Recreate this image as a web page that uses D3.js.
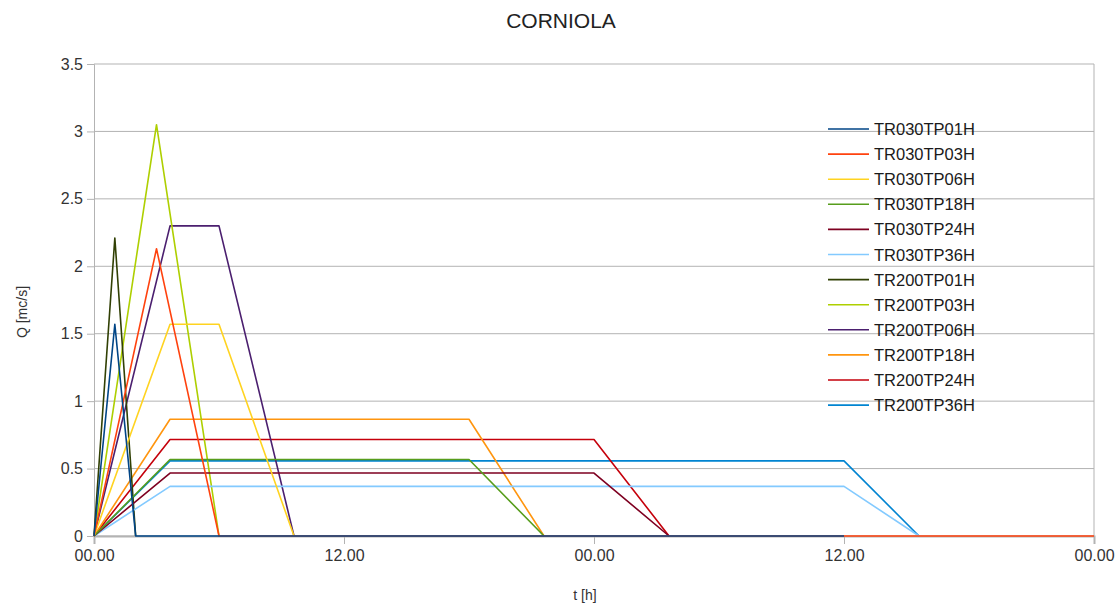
<!DOCTYPE html>
<html><head><meta charset="utf-8">
<script src="https://cdn.jsdelivr.net/npm/d3@7"></script>
<style>body{margin:0;background:#fff;} text{font-family:"Liberation Sans",Arial,sans-serif;}</style>
</head><body>
<svg id="c" width="1120" height="608"></svg>
<script>
const seriesNames = ["TR030TP01H","TR030TP03H","TR030TP06H","TR030TP18H","TR030TP24H","TR030TP36H",
                     "TR200TP01H","TR200TP03H","TR200TP06H","TR200TP18H","TR200TP24H","TR200TP36H"];
const palette = ["#004586","#ff420e","#ffd320","#579d1c","#7e0021","#83caff",
                 "#314004","#aecf00","#4b1f6f","#ff950e","#c5000b","#0084d1"];
// time [h] for each series
const seriesTimes = [
  [0,1,2,36],
  [0,3,6,48],
  [0,3.65,6,9.6],
  [0,3.65,18,21.6],
  [0,3.65,24,27.6],
  [0,3.65,36,39.6],
  [0,1,2],
  [0,3,6],
  [0,3.65,6,9.6],
  [0,3.65,18,21.6],
  [0,3.65,24,27.6],
  [0,3.65,36,39.6]
];
// discharge Q [mc/s] for each series
const seriesValues = [
  [0,1.57,0,0],
  [0,2.13,0,0],
  [0,1.57,1.57,0],
  [0,0.567,0.567,0],
  [0,0.467,0.467,0],
  [0,0.368,0.368,0],
  [0,2.21,0],
  [0,3.05,0],
  [0,2.30,2.30,0],
  [0,0.866,0.866,0],
  [0,0.716,0.716,0],
  [0,0.557,0.557,0]
];
const xTickValues = [0,12,24,36,48];
const xTickLabels = ["00.00","12.00","00.00","12.00","00.00"];
const yTickValues = [0,0.5,1,1.5,2,2.5,3,3.5];
const yTickLabels = ["0","0.5","1","1.5","2","2.5","3","3.5"];

const svg = d3.select("#c");
const L=94, R=1094, T=64, B=536;
const x = d3.scaleLinear().domain([0,48]).range([L,R]);
const y = d3.scaleLinear().domain([0,3.5]).range([B,T]);
const grid = "#b3b3b3";

// grid
svg.append("g").selectAll("line").data(yTickValues).join("line")
  .attr("x1",L).attr("x2",R).attr("y1",d=>y(d)).attr("y2",d=>y(d))
  .attr("stroke",grid).attr("stroke-width",1);
svg.append("line").attr("x1",R).attr("x2",R).attr("y1",T).attr("y2",B).attr("stroke",grid);

// y axis
const yAxis = d3.axisLeft(y).tickValues(yTickValues).tickFormat((d,i)=>yTickLabels[i]).tickSize(7).tickPadding(4);
const gy = svg.append("g").attr("transform",`translate(${L},0)`).call(yAxis);
gy.select(".domain").attr("stroke",grid);
gy.selectAll(".tick line").attr("stroke",grid);
gy.selectAll("text").attr("font-size",16).attr("fill","#333").attr("font-family","Liberation Sans, Arial, sans-serif");

// x axis
const xAxis = d3.axisBottom(x).tickValues(xTickValues).tickFormat((d,i)=>xTickLabels[i]).tickSize(8).tickPadding(6);
const gx = svg.append("g").attr("transform",`translate(0,${B})`).call(xAxis);
gx.select(".domain").attr("stroke",grid).attr("stroke-width",2);
gx.selectAll(".tick line").attr("stroke",grid);
gx.selectAll("text").attr("font-size",16).attr("fill","#333").attr("font-family","Liberation Sans, Arial, sans-serif");

// lines (reverse drawing order)
const line = d3.line().x(d=>x(d[0])).y(d=>y(d[1]));
const idx = d3.range(seriesNames.length).reverse();
svg.append("g").selectAll("path").data(idx).join("path")
  .attr("d",i=>line(seriesTimes[i].map((t,k)=>[t,seriesValues[i][k]])))
  .attr("fill","none").attr("stroke",i=>palette[i]).attr("stroke-width",1.6)
  .attr("stroke-linejoin","round");

// title and axis labels
svg.append("text").attr("x",561).attr("y",28).attr("text-anchor","middle")
  .attr("font-size",21).attr("fill","#222").text("CORNIOLA");
svg.append("text").attr("transform","translate(27,312) rotate(-90)").attr("text-anchor","middle")
  .attr("font-size",14).attr("fill","#333").text("Q [mc/s]");
svg.append("text").attr("x",585).attr("y",600).attr("text-anchor","middle")
  .attr("font-size",14).attr("fill","#333").text("t [h]");

// legend
const lg = svg.append("g");
seriesNames.forEach((n,i)=>{
  const yy = 129 + i*25.1;
  lg.append("line").attr("x1",828).attr("x2",869).attr("y1",yy).attr("y2",yy)
    .attr("stroke",palette[i]).attr("stroke-width",1.6);
  lg.append("text").attr("x",874).attr("y",yy+6).attr("font-size",16.5).attr("fill","#1a1a1a").text(n);
});
</script>
</body></html>
